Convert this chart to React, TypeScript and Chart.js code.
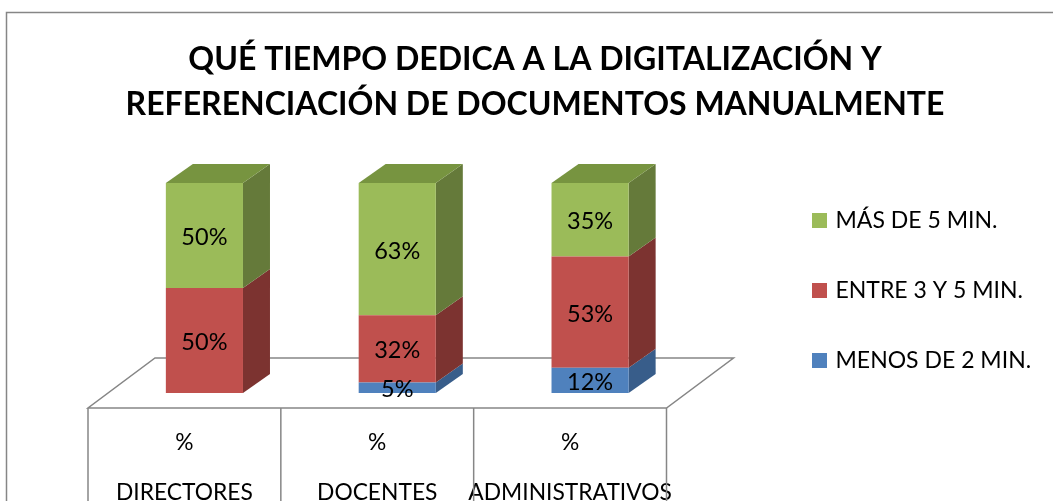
import React, { useEffect, useRef } from "react";
import { Chart, registerables } from "chart.js";

Chart.register(...registerables);

const titleLines = ["QUÉ TIEMPO DEDICA A LA DIGITALIZACIÓN Y", "REFERENCIACIÓN DE DOCUMENTOS MANUALMENTE"];
const categories = [["%", "DIRECTORES"], ["%", "DOCENTES"], ["%", "ADMINISTRATIVOS"]];
const menosDe2 = [0, 5, 12];
const entre3y5 = [50, 32, 53];
const masDe5 = [50, 63, 35];

const FONT = "Lato, Carlito, sans-serif";
const GREY = "#868686";
const DX = 27;
const DY = -19;

const faces = [
  { front: "#4f81bd", side: "#385d8a", top: "#3f6797" },
  { front: "#c0504d", side: "#7c3330", top: "#98403d" },
  { front: "#9bbb59", side: "#657a3a", top: "#779440" },
];

function poly(ctx: CanvasRenderingContext2D, pts: number[][], fill?: string) {
  ctx.beginPath();
  pts.forEach(([x, y], i) => (i ? ctx.lineTo(x, y) : ctx.moveTo(x, y)));
  ctx.closePath();
  if (fill) {
    ctx.fillStyle = fill;
    ctx.fill();
  }
}

const decor = {
  id: "decor",
  afterLayout(chart: any) {
    chart.titleBlock.left = 0;
    chart.titleBlock.right = 1070;
    const l = chart.legend;
    l.left = 768;
    l.right = 1053;
    l.top = 40;
    l.bottom = 541;
  },
  beforeDraw(chart: any) {
    const ctx: CanvasRenderingContext2D = chart.ctx;
    ctx.save();
    ctx.fillStyle = "#ffffff";
    ctx.fillRect(0, 0, chart.width, chart.height);
    ctx.strokeStyle = GREY;
    ctx.lineWidth = 1.5;
    ctx.strokeRect(6.5, 12.5, 1060, 520);
    ctx.restore();
  },
  beforeDatasetsDraw(chart: any) {
    const ctx: CanvasRenderingContext2D = chart.ctx;
    const { bottom } = chart.chartArea;
    const x = chart.scales.x;
    const step = x.getPixelForValue(1) - x.getPixelForValue(0);
    const fl = x.getPixelForValue(0) - step / 2 - 20;
    const fr = fl + step * 3;
    const fy = bottom + 15;
    const by = bottom - 35;
    ctx.save();
    ctx.strokeStyle = GREY;
    ctx.lineWidth = 1.5;
    poly(ctx, [[fl, fy], [fr, fy], [fr + 67, by], [fl + 67, by]]);
    ctx.stroke();
    for (let i = 0; i <= 3; i++) {
      ctx.beginPath();
      ctx.moveTo(fl + step * i, fy);
      ctx.lineTo(fl + step * i, chart.height);
      ctx.stroke();
    }
    chart.data.datasets.forEach((_: any, d: number) => {
      chart.getDatasetMeta(d).data.forEach((bar: any) => {
        const p = bar.getProps(["x", "y", "base", "width"], true);
        if (Math.abs(p.base - p.y) < 0.5) return;
        const xr = p.x + p.width / 2;
        const xl = p.x - p.width / 2;
        poly(ctx, [[xr, p.y], [xr + DX, p.y + DY], [xr + DX, p.base + DY], [xr, p.base]], faces[d].side);
        if (d === chart.data.datasets.length - 1) {
          poly(ctx, [[xl, p.y], [xl + DX, p.y + DY], [xr + DX, p.y + DY], [xr, p.y]], faces[d].top);
        }
      });
    });
    ctx.restore();
  },
  afterDatasetsDraw(chart: any) {
    const ctx: CanvasRenderingContext2D = chart.ctx;
    ctx.save();
    ctx.fillStyle = "#000000";
    ctx.font = `23.5px ${FONT}`;
    ctx.textAlign = "center";
    ctx.textBaseline = "middle";
    chart.data.datasets.forEach((ds: any, d: number) => {
      chart.getDatasetMeta(d).data.forEach((bar: any, i: number) => {
        const v = ds.data[i];
        if (!v) return;
        const p = bar.getProps(["x", "y", "base"], true);
        ctx.fillText(`${v}%`, p.x, (p.y + p.base) / 2 + 2);
      });
    });
    ctx.restore();
  },
};

export default function App() {
  const ref = useRef<HTMLCanvasElement>(null);
  useEffect(() => {
    document.body.style.margin = "0";
    const chart = new Chart(ref.current as HTMLCanvasElement, {
      type: "bar",
      data: {
        labels: categories,
        datasets: [
          { label: "MENOS DE 2 MIN.", data: menosDe2, backgroundColor: faces[0].front },
          { label: "ENTRE 3 Y 5 MIN.", data: entre3y5, backgroundColor: faces[1].front },
          { label: "MÁS DE 5 MIN.", data: masDe5, backgroundColor: faces[2].front },
        ],
      },
      options: {
        responsive: false,
        animation: false,
        layout: { autoPadding: false, padding: { left: 108, right: 116.5, top: 0, bottom: 0 } },
        datasets: { bar: { categoryPercentage: 1, barPercentage: 0.4 } },
        scales: {
          x: {
            stacked: true,
            grid: { display: false, drawTicks: false },
            border: { display: false },
            afterFit: (s: any) => {
              s.height = 108;
            },
            ticks: {
              autoSkip: false,
              maxRotation: 0,
              minRotation: 0,
              padding: 25,
              labelOffset: -20,
              color: "#000000",
              font: { family: FONT, size: 22.8, lineHeight: "50px" },
            },
          },
          y: { stacked: true, display: false, min: 0, max: 100 },
        },
        plugins: {
          tooltip: { enabled: false },
          title: {
            display: true,
            text: titleLines,
            color: "#000000",
            font: { family: FONT, size: 32, weight: "bold", lineHeight: "45px" },
            padding: { top: 37, bottom: 56 },
          },
          legend: {
            display: true,
            position: "right",
            reverse: true,
            maxWidth: 250,
            labels: {
              boxWidth: 9,
              boxHeight: 9,
              padding: 47,
              color: "#000000",
              font: { family: FONT, size: 23 },
              generateLabels: (chart: any) =>
                Chart.defaults.plugins.legend.labels.generateLabels(chart).map((item: any) => ({
                  ...item,
                  strokeStyle: item.fillStyle,
                  lineWidth: 6,
                })),
            },
          },
        },
      },
      plugins: [decor],
    } as any);
    return () => chart.destroy();
  }, []);
  return <canvas ref={ref} width={1053} height={501} style={{ display: "block" }} />;
}
